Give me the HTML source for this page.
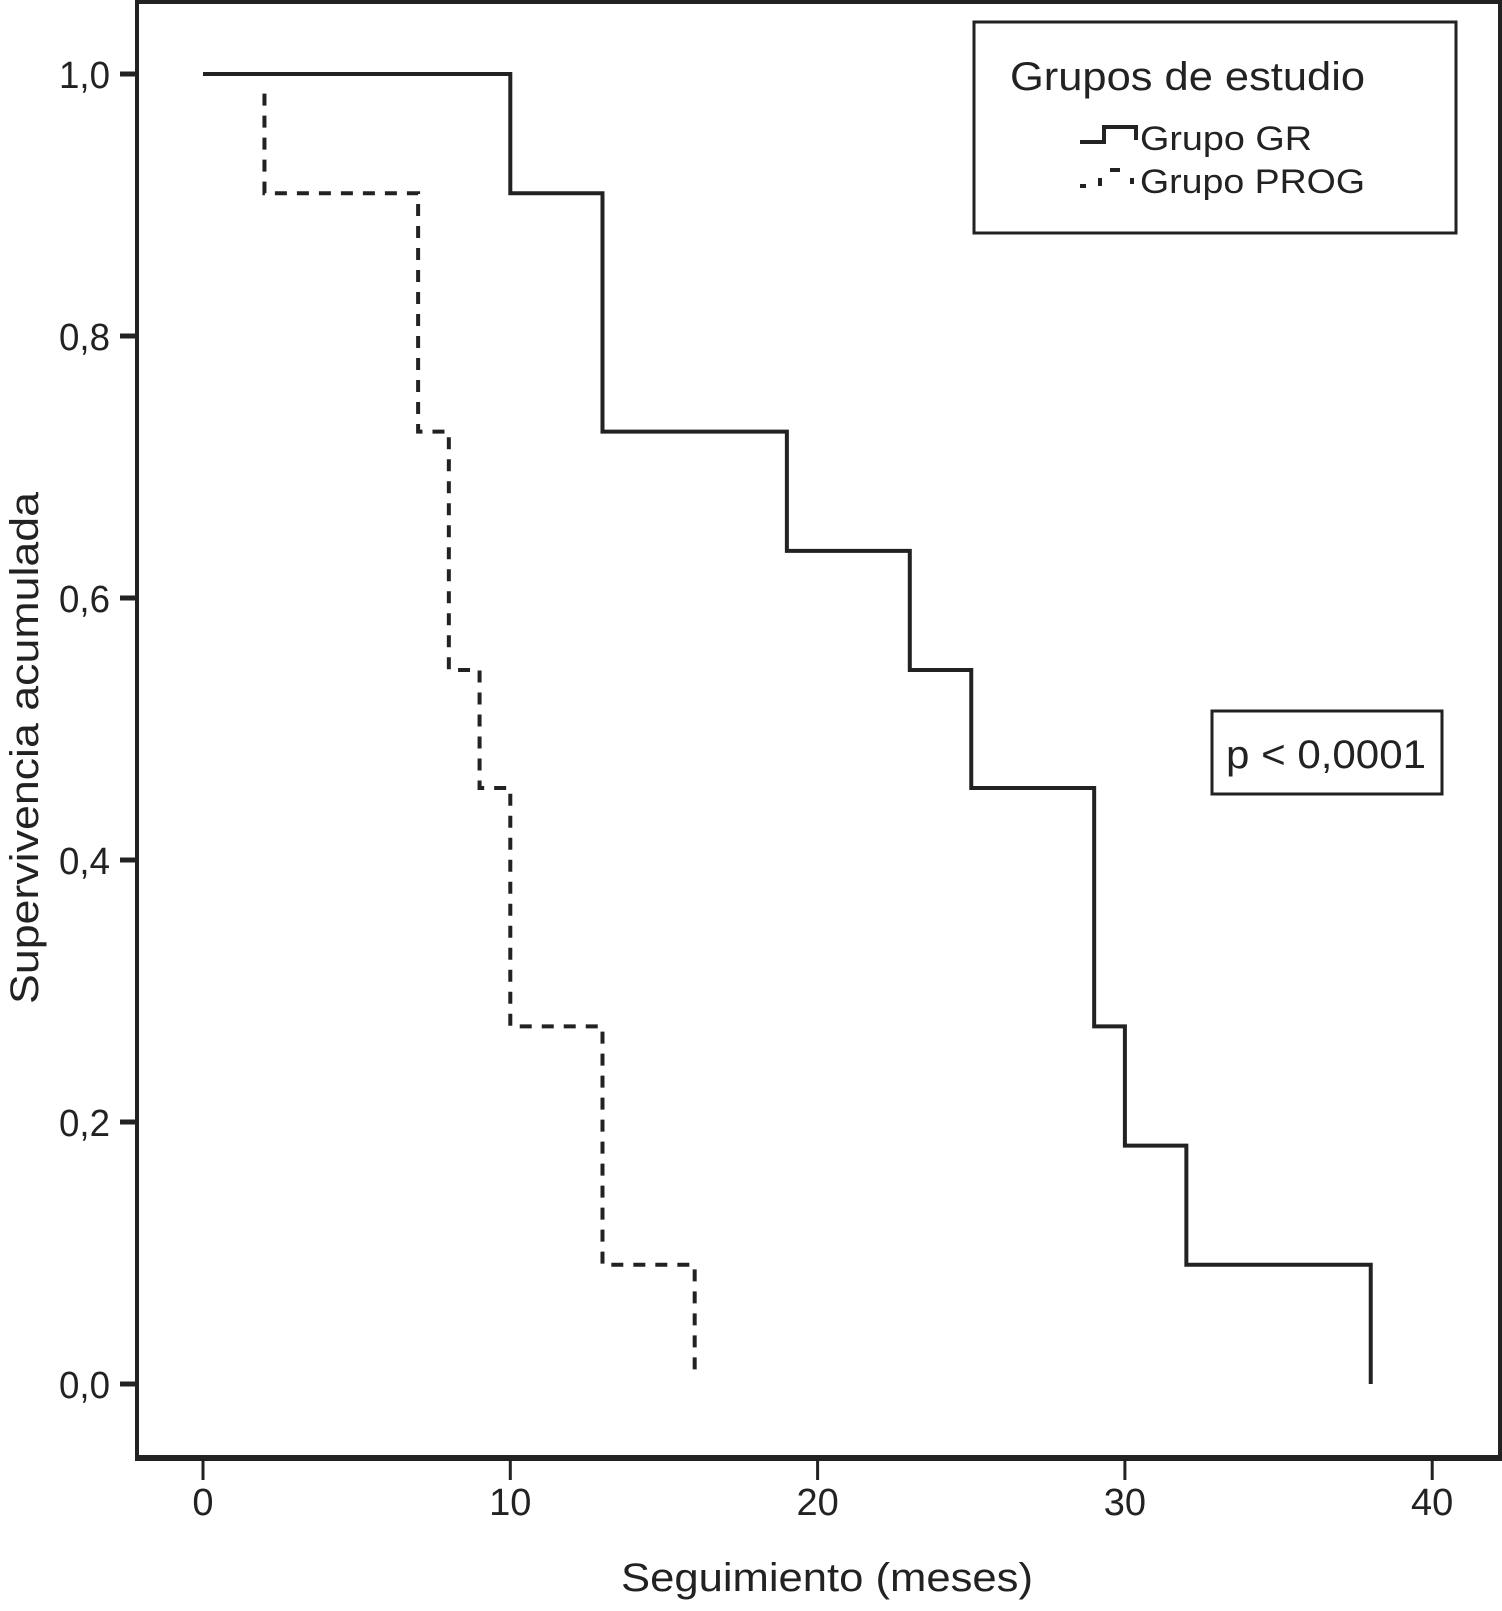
<!DOCTYPE html>
<html><head><meta charset="utf-8"><style>
html,body{margin:0;padding:0;background:#fff}
svg text{font-family:"Liberation Sans",sans-serif;fill:#222}
</style></head><body>
<svg id="chart" width="1502" height="1606" viewBox="0 0 1502 1606" xmlns="http://www.w3.org/2000/svg">
<rect x="137" y="2" width="1363" height="1456" fill="none" stroke="#222" stroke-width="4"/>
<line x1="135" y1="1458" x2="1502" y2="1458" stroke="#222" stroke-width="6"/>
<g id="yticks"></g>
<g id="xticks"></g>
<g id="series"></g>
<text x="621" y="1591" font-size="40" textLength="412" lengthAdjust="spacingAndGlyphs">Seguimiento (meses)</text>
<text transform="translate(38,1004) rotate(-90)" font-size="40" textLength="512" lengthAdjust="spacingAndGlyphs">Supervivencia acumulada</text>
<g>
<rect x="974" y="22" width="482" height="211" fill="#fff" stroke="#222" stroke-width="3"/>
<text x="1010" y="90" font-size="40" textLength="355" lengthAdjust="spacingAndGlyphs">Grupos de estudio</text>
<path d="M1080 142 H1104 V127 H1136 V140" fill="none" stroke="#222" stroke-width="4"/>
<text x="1140" y="150" font-size="34" textLength="172" lengthAdjust="spacingAndGlyphs">Grupo GR</text>
<path d="M1080 186 H1086 M1100 186 V178 M1110 170 H1120 M1132 178 V184" fill="none" stroke="#222" stroke-width="4"/>
<text x="1140" y="193" font-size="34" textLength="225" lengthAdjust="spacingAndGlyphs">Grupo PROG</text>
</g>
<g>
<rect x="1212" y="711" width="230" height="83" fill="#fff" stroke="#222" stroke-width="3"/>
<text x="1226" y="768" font-size="40" textLength="200" lengthAdjust="spacingAndGlyphs">p &lt; 0,0001</text>
</g>
</svg>
<script>
const xTicks=[0,10,20,30,40];
const yTicks=[0,0.2,0.4,0.6,0.8,1.0];
const yTickLabels=["0,0","0,2","0,4","0,6","0,8","1,0"];
const grTimes=[0,10,13,19,23,25,29,30,32,38];
const grSurv=[1.0,0.909,0.727,0.636,0.545,0.455,0.273,0.182,0.091,0];
const progTimes=[2,7,8,9,10,13,16];
const progSurv=[0.909,0.727,0.545,0.455,0.273,0.091,0.01];
const progStart=0.985;
const NS="http://www.w3.org/2000/svg";
const X=v=>203+v*30.73;
const Y=v=>1384-v*1310;
function mk(tag,attrs,parent){const e=document.createElementNS(NS,tag);for(const k in attrs)e.setAttribute(k,attrs[k]);parent.appendChild(e);return e;}
const yg=document.getElementById('yticks');
yTicks.forEach((t,i)=>{
  const l=mk('line',{x1:120,x2:137,y1:Y(t),y2:Y(t),stroke:'#222','stroke-width':5},yg);
  
  
  const tx=mk('text',{x:59,y:Y(t)+14,'font-size':38,textLength:51,lengthAdjust:'spacingAndGlyphs'},yg);
  
  
  tx.textContent=yTickLabels[i];
});
const xg=document.getElementById('xticks');
xTicks.forEach(t=>{
  const l=mk('line',{x1:X(t),x2:X(t),y1:1458,y2:1480,stroke:'#222','stroke-width':3},xg);
  
  
  const tx=mk('text',{x:X(t),y:1515,'font-size':38,'text-anchor':'middle'},xg);
  
  
  tx.textContent=String(t);
});
const sg=document.getElementById('series');
let d='M'+X(grTimes[0])+' '+Y(grSurv[0]);
for(let i=1;i<grTimes.length;i++){d+=' H'+X(grTimes[i])+' V'+Y(grSurv[i]);}
const gr=mk('path',{d:d,fill:'none',stroke:'#222','stroke-width':4},sg);


let d2='M'+X(progTimes[0])+' '+Y(progStart)+' V'+Y(progSurv[0]);
for(let i=1;i<progTimes.length;i++){d2+=' H'+X(progTimes[i])+' V'+Y(progSurv[i]);}
const pr=mk('path',{d:d2,fill:'none',stroke:'#222','stroke-width':4,'stroke-dasharray':'12 10'},sg);


</script>
</body></html>
